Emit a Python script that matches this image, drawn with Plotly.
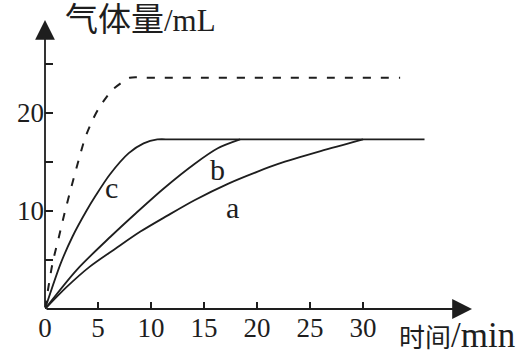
import plotly.graph_objects as go

# ---- data ----
time_dash = [0, 0.7, 1.3, 1.85, 2.5, 3.2, 3.8, 4.5, 5.2, 6.3, 7.1, 8.0, 10, 33.5]
gas_dash = [0, 4.6, 7.3, 9.8, 12.5, 15.3, 17.5, 19.3, 20.7, 22.3, 23.0, 23.6, 23.6, 23.6]

time_c = [0, 1.5, 2.6, 3.9, 4.8, 6.1, 7.9, 9.3, 10.6, 12, 35.8]
gas_c = [0, 4.7, 7.4, 10.0, 11.6, 13.7, 15.9, 16.9, 17.3, 17.3, 17.3]

time_b = [0, 3.0, 6.2, 8.6, 11.2, 14.1, 16.3, 18.4]
gas_b = [0, 4.0, 7.4, 9.8, 12.3, 14.8, 16.4, 17.3]

time_a = [0, 2.0, 4.2, 6.7, 9.0, 11.5, 14.1, 17.3, 20.0, 22.0, 26.0, 30.0]
gas_a = [0, 2.2, 4.3, 6.2, 7.9, 9.5, 11.1, 12.8, 14.0, 14.8, 16.1, 17.3]

x_ticks = [0, 5, 10, 15, 20, 25, 30]
x_tick_text = ["0", "5", "10", "15", "20", "25", "30"]
y_ticks = [5, 10, 15, 20, 25]
y_tick_text = ["", "10", "", "20", ""]

curve_labels = ["a", "b", "c"]
label_x = [17.7, 16.3, 6.3]
label_y = [10.4, 14.2, 12.4]

x_title = "时间/min"
y_title = "气体量/mL"

X_MAX = 40.28
Y_MAX = 29.49

INK = "#1e1e1e"
SERIF = "Liberation Serif, 'Noto Sans CJK SC', serif"

fig = go.Figure()
fig.add_trace(go.Scatter(x=time_dash, y=gas_dash, mode="lines",
                         line=dict(color=INK, width=2, dash="8px,10px", shape="spline", smoothing=0.8),
                         showlegend=False, hoverinfo="skip"))
for xs, ys in [(time_c, gas_c), (time_b, gas_b), (time_a, gas_a)]:
    fig.add_trace(go.Scatter(x=xs, y=ys, mode="lines",
                             line=dict(color=INK, width=1.8, shape="spline", smoothing=0.8),
                             showlegend=False, hoverinfo="skip"))

annotations = []
# axis arrows
annotations.append(dict(x=X_MAX, y=0, ax=0, ay=0, xref="x", yref="y", axref="x", ayref="y",
                        showarrow=True, arrowhead=2, arrowsize=2.2, arrowwidth=1.8,
                        arrowcolor=INK, text=""))
annotations.append(dict(x=0, y=Y_MAX, ax=0, ay=0, xref="x", yref="y", axref="x", ayref="y",
                        showarrow=True, arrowhead=2, arrowsize=2.2, arrowwidth=1.8,
                        arrowcolor=INK, text=""))
for t, lx, ly in zip(curve_labels, label_x, label_y):
    annotations.append(dict(x=lx, y=ly, xref="x", yref="y", text=t, showarrow=False,
                            font=dict(family=SERIF, size=30, color=INK)))
annotations.append(dict(x=0.042, y=1.0, xref="paper", yref="paper", xanchor="left", yanchor="middle",
                        showarrow=False,
                        text='<span style="font-size:33px">' + y_title[:3] + '</span>' + y_title[3:],
                        font=dict(family=SERIF, size=31, color=INK)))
annotations.append(dict(x=0.8245, y=-0.09, xref="paper", yref="paper", xanchor="left", yanchor="middle",
                        showarrow=False,
                        text='<span style="font-size:26px">' + x_title[:2] + '</span>' + x_title[2:],
                        font=dict(family=SERIF, size=35, color=INK)))

fig.update_layout(
    width=526, height=354,
    margin=dict(l=45, r=54, t=20, b=45),
    paper_bgcolor="white", plot_bgcolor="white",
    annotations=annotations,
    font=dict(family=SERIF, size=27, color=INK),
)
fig.update_xaxes(range=[0, X_MAX], showgrid=False, zeroline=False, showline=False,
                 tickmode="array", tickvals=x_ticks, ticktext=x_tick_text,
                 ticks="inside", ticklen=7, tickwidth=1.5, tickcolor=INK,
                 tickfont=dict(family=SERIF, size=27, color=INK))
fig.update_yaxes(range=[0, Y_MAX], showgrid=False, zeroline=False, showline=False,
                 tickmode="array", tickvals=y_ticks, ticktext=y_tick_text,
                 ticks="inside", ticklen=8, tickwidth=1.5, tickcolor=INK,
                 tickfont=dict(family=SERIF, size=27, color=INK))

fig.write_html("out.html")
